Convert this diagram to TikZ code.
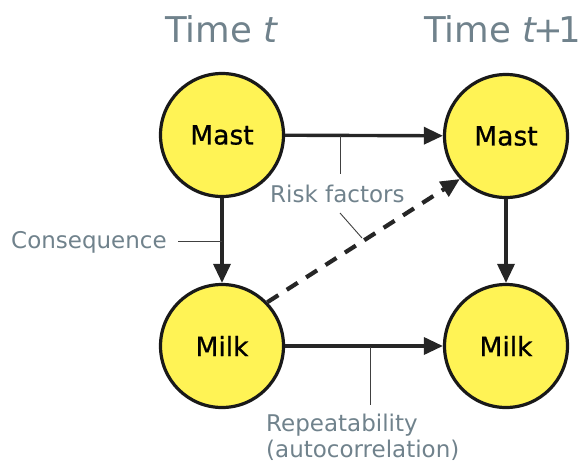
\documentclass[tikz,border=0pt]{standalone}
\usepackage{fontspec}
\setmainfont{DejaVu Sans}
\usetikzlibrary{arrows.meta}
\definecolor{stateyellow}{RGB}{255,243,85}
\definecolor{labelgray}{RGB}{112,130,140}
\begin{document}
\begin{tikzpicture}[x=1pt,y=-1pt,
  state/.style={circle,draw=black!90,line width=3.2pt,fill=stateyellow,
    minimum size=123pt,inner sep=0pt,
    font=\fontsize{26.5}{30}\selectfont\addfontfeature{FakeBold=0.8}},
  link/.style={draw=black!85,line width=3.4pt,-{Triangle[length=19pt,width=17pt]}},
  dashlink/.style={link,line width=4.2pt,dash pattern=on 13pt off 10pt},
  pointer/.style={draw=black!75,line width=0.9pt},
  lab/.style={text=labelgray,font=\fontsize{23}{28}\selectfont,inner sep=0pt},
  title/.style={text=labelgray,font=\fontsize{35.5}{42}\selectfont,inner sep=0pt}]
\useasboundingbox (0,0) rectangle (584,466);

% column headings
\node[title,anchor=base west] (t0) at (165,42) {Time \textit{t}};
\node[title,anchor=base east] (t1) at (581,42) {Time \textit{t}\kern-4pt+\kern-5pt1};

% states
\node[state] (mastA) at (222,135) {Mast};
\node[state] (mastB) at (506,136) {Mast};
\node[state] (milkA) at (222,346) {Milk};
\node[state] (milkB) at (506,346) {Milk};

% dependencies
\draw[link] (mastA) -- (mastB);
\draw[link] (mastA) -- (milkA);
\draw[link] (mastB) -- (milkB);
\draw[link] (milkA) -- (milkB);
\draw[dashlink] (milkA.44) -- (mastB.223);

% labels and their pointers
\node[lab,anchor=base west] (cons) at (11,248) {Consequence};
\coordinate (consA) at (178,241);
\coordinate (consB) at (222,241);
\draw[pointer] (consA) -- (consB);

\node[lab,anchor=base west] (risk) at (270,202) {Risk factors};
\coordinate (riskA) at (340,136);
\coordinate (riskB) at (340,174);
\draw[pointer] (riskA) -- (riskB);
\coordinate (riskC) at (340,213);
\coordinate (riskD) at (362,238);
\draw[pointer] (riskC) -- (riskD);

\node[lab,anchor=base west] (rep) at (266,431) {Repeatability};
\node[lab,anchor=base west] (auto) at (266,457) {(autocorrelation)};
\coordinate (repA) at (370,347);
\coordinate (repB) at (370,405);
\draw[pointer] (repA) -- (repB);
\end{tikzpicture}
\end{document}
